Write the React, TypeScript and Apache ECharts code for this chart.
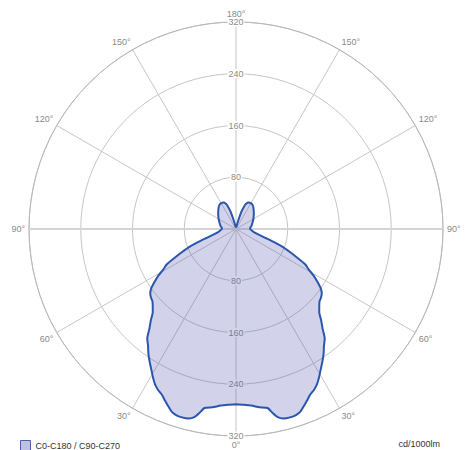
import React, { useEffect, useRef } from "react";
import * as echarts from "echarts";

// Gamma angle (deg, 0 = straight down) for the C0-C180 / C90-C270 plane
const angles = [
  0, 2.5, 5, 7.5, 10, 11.25, 12.5, 14, 16, 18, 19.5, 21, 22.5, 24, 26, 27.5, 29,
  31, 33, 35, 37, 39, 41, 43, 45, 47, 49, 51, 53, 55, 57, 59, 61, 63, 65, 67, 69,
  71, 73, 76, 80, 85, 90, 95, 100, 110, 120, 130, 140, 145, 150, 155, 158, 160,
  162.5, 165, 167.5, 170, 175, 180,
];
// Luminous intensity (cd/1000lm)
const intensities = [
  271, 272, 274, 278, 281, 290, 298, 302, 303, 302, 299, 293, 287, 281, 276, 271,
  264, 254, 245, 236, 226, 218, 204, 193, 182, 176, 171, 169, 166, 160, 150, 140,
  128, 120, 104, 90, 78, 63, 49, 36, 28, 24, 22, 22, 24, 27, 31, 36, 42, 45, 46,
  45, 42, 38, 28, 14, 6, 4, 3, 3,
];
const radiusMax = 320;
const radiusStep = 80;
const angleStep = 30;
const legendLabel = "C0-C180 / C90-C270";
const unitLabel = "cd/1000lm";

const FONT = "'Liberation Sans', 'DejaVu Sans', sans-serif";
const GRID = "#c6c6c6";
const LABEL = "#8a8a8a";

export default function App() {
  const ref = useRef<HTMLDivElement>(null);
  useEffect(() => {
    if (!ref.current) return;
    const chart = echarts.init(ref.current, null, { renderer: "svg" });
    const firstHalf = angles.map((a, i) => [intensities[i], a]);
    const secondHalf: number[][] = [];
    for (let i = angles.length - 2; i >= 0; i--) {
      secondHalf.push([intensities[i], 360 - angles[i]]);
    }
    const curve = firstHalf.concat(secondHalf);

    const radiusCommon = {
      type: "value",
      min: 0,
      max: radiusMax,
      interval: radiusStep,
      axisLine: { show: false },
      axisTick: { show: false },
      axisLabel: {
        showMinLabel: false,
        color: LABEL,
        fontSize: 9,
        fontFamily: FONT,
        margin: 0,
        align: "center",
        verticalAlign: "middle",
        backgroundColor: "#ffffff",
        padding: [0, 1],
      },
    };

    chart.setOption({
      animation: false,
      textStyle: { fontFamily: FONT },
      title: {
        text: unitLabel,
        right: 20,
        top: 434,
        textStyle: { fontSize: 9, fontWeight: "normal", color: "#333", fontFamily: FONT },
      },
      legend: {
        left: 15,
        top: 435,
        itemWidth: 10,
        itemHeight: 10,
        icon: "rect",
        itemGap: 6,
        textStyle: { fontSize: 9, color: "#333", fontFamily: FONT },
        itemStyle: { color: "#c0c0e2", borderColor: "#4a5fae", borderWidth: 1 },
        data: [legendLabel],
      },
      polar: [
        { center: [236, 229], radius: 207 },
        { center: [236, 229], radius: 207 },
      ],
      angleAxis: [
        {
          polarIndex: 0,
          type: "value",
          min: 0,
          max: 360,
          interval: angleStep,
          startAngle: 270,
          clockwise: true,
          axisLine: { lineStyle: { color: "#b8b8b8", width: 1 } },
          axisTick: { show: false },
          axisLabel: {
            color: LABEL,
            fontSize: 9,
            fontFamily: FONT,
            margin: 4,
            formatter: (v: number) => `${v > 180 ? 360 - v : v}°`,
          },
          splitLine: { lineStyle: { color: GRID, width: 1 } },
        },
        {
          polarIndex: 1,
          type: "value",
          min: 0,
          max: 360,
          startAngle: 90,
          show: false,
        },
      ],
      radiusAxis: [
        { ...radiusCommon, polarIndex: 0, splitLine: { lineStyle: { color: GRID, width: 1 } } },
        { ...radiusCommon, polarIndex: 1, splitLine: { show: false } },
      ],
      series: [
        {
          type: "line",
          coordinateSystem: "polar",
          polarIndex: 0,
          silent: true,
          z: 1,
          symbol: "none",
          lineStyle: { color: "#d4d4d4", width: 2 },
          data: [
            [radiusMax, 90],
            [0, 0],
            [radiusMax, 270],
          ],
        },
        {
          name: legendLabel,
          type: "line",
          coordinateSystem: "polar",
          polarIndex: 0,
          z: 3,
          symbol: "none",
          showSymbol: false,
          smooth: 0.2,
          lineStyle: { color: "#2b56ad", width: 2 },
          itemStyle: { color: "#c0c0e2", borderColor: "#4a5fae" },
          areaStyle: { color: "rgba(88, 88, 178, 0.38)", origin: "start" },
          data: curve,
        },
      ],
    });
    return () => chart.dispose();
  }, []);
  return (
    <div
      ref={ref}
      style={{ position: "fixed", left: 0, top: 0, width: 465, height: 450, background: "#fff" }}
    />
  );
}
